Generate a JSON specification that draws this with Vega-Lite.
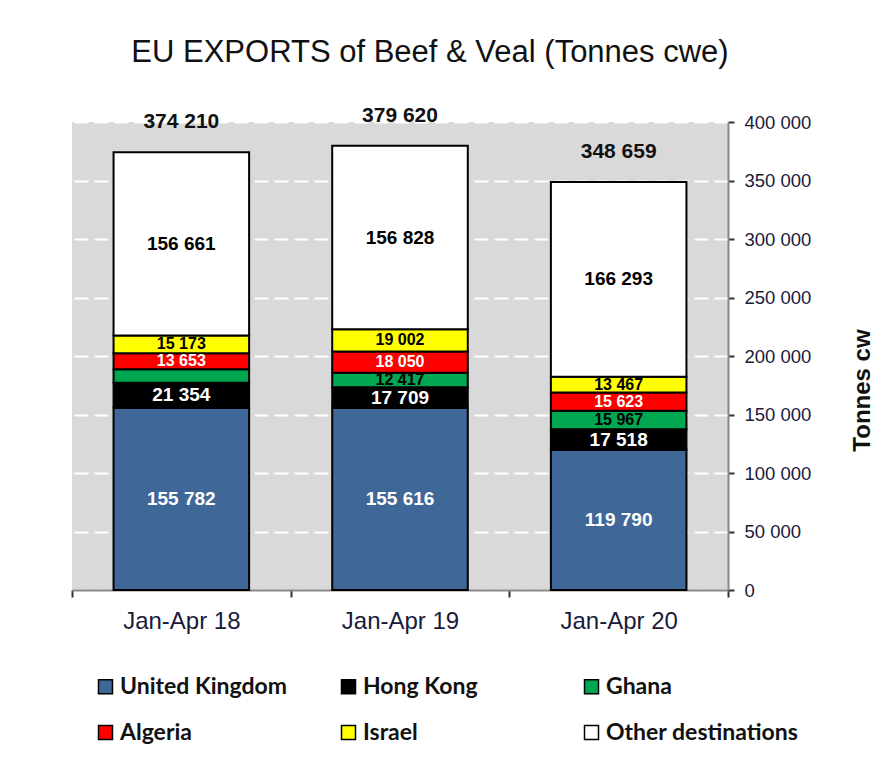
{
  "$schema": "https://vega.github.io/schema/vega-lite/v6.json",
  "width": 656,
  "height": 468,
  "autosize": "none",
  "padding": {"left": 72, "top": 122, "right": 155, "bottom": 183},
  "background": "white",
  "title": {
    "text": "EU EXPORTS of Beef & Veal (Tonnes cwe)",
    "font": "Liberation Sans",
    "fontSize": 31,
    "fontWeight": "normal",
    "color": "#111111",
    "anchor": "middle",
    "frame": "group",
    "dx": 30,
    "offset": 36
  },
  "datasets": {
    "exports": [
      {"period": "Jan-Apr 18", "destination": "United Kingdom", "ord": 1, "tonnes": 155782},
      {"period": "Jan-Apr 18", "destination": "Hong Kong", "ord": 2, "tonnes": 21354},
      {"period": "Jan-Apr 18", "destination": "Ghana", "ord": 3, "tonnes": 11587},
      {"period": "Jan-Apr 18", "destination": "Algeria", "ord": 4, "tonnes": 13653},
      {"period": "Jan-Apr 18", "destination": "Israel", "ord": 5, "tonnes": 15173},
      {"period": "Jan-Apr 18", "destination": "Other destinations", "ord": 6, "tonnes": 156661},
      {"period": "Jan-Apr 19", "destination": "United Kingdom", "ord": 1, "tonnes": 155616},
      {"period": "Jan-Apr 19", "destination": "Hong Kong", "ord": 2, "tonnes": 17709},
      {"period": "Jan-Apr 19", "destination": "Ghana", "ord": 3, "tonnes": 12417},
      {"period": "Jan-Apr 19", "destination": "Algeria", "ord": 4, "tonnes": 18050},
      {"period": "Jan-Apr 19", "destination": "Israel", "ord": 5, "tonnes": 19002},
      {"period": "Jan-Apr 19", "destination": "Other destinations", "ord": 6, "tonnes": 156828},
      {"period": "Jan-Apr 20", "destination": "United Kingdom", "ord": 1, "tonnes": 119790},
      {"period": "Jan-Apr 20", "destination": "Hong Kong", "ord": 2, "tonnes": 17518},
      {"period": "Jan-Apr 20", "destination": "Ghana", "ord": 3, "tonnes": 15967},
      {"period": "Jan-Apr 20", "destination": "Algeria", "ord": 4, "tonnes": 15623},
      {"period": "Jan-Apr 20", "destination": "Israel", "ord": 5, "tonnes": 13467},
      {"period": "Jan-Apr 20", "destination": "Other destinations", "ord": 6, "tonnes": 166293}
    ],
    "totals": [
      {"period": "Jan-Apr 18", "total": 374210},
      {"period": "Jan-Apr 19", "total": 379620},
      {"period": "Jan-Apr 20", "total": 348659}
    ]
  },
  "encoding": {
    "x": {
      "field": "period",
      "type": "nominal",
      "sort": ["Jan-Apr 18", "Jan-Apr 19", "Jan-Apr 20"],
      "scale": {"paddingInner": 0, "paddingOuter": 0},
      "axis": {
        "title": null,
        "labelAngle": 0,
        "labelFont": "Liberation Sans",
        "labelFontSize": 24,
        "labelColor": "#1a1a3a",
        "labelPadding": 12,
        "tickBand": "extent",
        "ticks": true,
        "tickSize": 7,
        "tickWidth": 2,
        "tickColor": "#333333",
        "domainColor": "#888888",
        "domainWidth": 2,
        "grid": false
      }
    }
  },
  "layer": [
    {
      "data": {"name": "exports"},
      "mark": {"type": "bar", "width": {"band": 0.62}, "stroke": "#000000", "strokeWidth": 2},
      "encoding": {
        "y": {
          "field": "tonnes",
          "type": "quantitative",
          "stack": "zero",
          "scale": {"domain": [0, 400000], "nice": false},
          "axis": {
            "orient": "right",
            "values": [0, 50000, 100000, 150000, 200000, 250000, 300000, 350000, 400000],
            "format": ",d",
            "labelFont": "Liberation Sans",
            "labelFontSize": 18.5,
            "labelColor": "#1a1a3a",
            "labelPadding": 10,
            "tickSize": 6,
            "tickWidth": 2,
            "tickColor": "#333333",
            "domainColor": "#888888",
            "domainWidth": 2,
            "grid": true,
            "gridColor": "#ffffff",
            "gridWidth": 2,
            "gridDash": [14, 6],
            "title": "Tonnes cw",
            "titleFont": "Liberation Sans",
            "titleFontSize": 24,
            "titleFontWeight": "bold",
            "titleColor": "#111111",
            "titleAngle": 270,
            "titleBaseline": "middle",
            "titleAlign": "center",
            "titleX": 134,
            "titleY": 268
          }
        },
        "fill": {
          "field": "destination",
          "type": "nominal",
          "scale": {
            "domain": ["United Kingdom", "Hong Kong", "Ghana", "Algeria", "Israel", "Other destinations"],
            "range": ["#3f6797", "#000000", "#00a650", "#ff0000", "#ffff00", "#ffffff"]
          },
          "legend": {
            "title": null,
            "orient": "none",
            "legendX": 22,
            "legendY": 553,
            "direction": "horizontal",
            "columns": 3,
            "gridAlign": "all",
            "columnPadding": 24,
            "rowPadding": 22,
            "padding": 0,
            "symbolType": "square",
            "symbolSize": 196,
            "symbolStrokeColor": "#000000",
            "symbolStrokeWidth": 1.5,
            "symbolOpacity": 1,
            "labelFont": "Lato",
            "labelFontSize": 23,
            "labelFontWeight": "bold",
            "labelColor": "#111111",
            "labelOffset": 3,
            "labelLimit": 400
          }
        },
        "order": {"field": "ord", "type": "quantitative"}
      }
    },
    {
      "data": {"name": "exports"},
      "mark": {"type": "text", "font": "Liberation Sans", "fontWeight": "bold", "baseline": "middle", "align": "center"},
      "encoding": {
        "y": {"field": "tonnes", "type": "quantitative", "stack": "zero", "bandPosition": 0.5},
        "detail": {"field": "destination"},
        "order": {"field": "ord", "type": "quantitative"},
        "text": {
          "condition": {"test": "datum.period == 'Jan-Apr 18' && datum.destination == 'Ghana'", "value": ""},
          "field": "tonnes", "type": "quantitative", "format": ",d"
        },
        "color": {
          "condition": {"test": "datum.destination == 'United Kingdom' || datum.destination == 'Hong Kong' || datum.destination == 'Algeria'", "value": "#ffffff"},
          "value": "#000000"
        },
        "size": {
          "condition": {"test": "datum.destination == 'United Kingdom' || datum.destination == 'Hong Kong' || datum.destination == 'Other destinations'", "value": 19},
          "value": 16
        }
      }
    },
    {
      "data": {"name": "totals"},
      "mark": {"type": "text", "font": "Liberation Sans", "fontWeight": "bold", "fontSize": 21, "baseline": "middle", "align": "center", "dy": -30, "color": "#111111"},
      "encoding": {
        "y": {"field": "total", "type": "quantitative"},
        "text": {"field": "total", "type": "quantitative", "format": ",d"}
      }
    }
  ],
  "config": {
    "locale": {
      "number": {"decimal": ",", "thousands": " ", "grouping": [3], "currency": ["", " €"]}
    },
    "view": {"fill": "#d9d9d9", "stroke": null},
    "axis": {"labelFontWeight": "normal"}
  }
}
